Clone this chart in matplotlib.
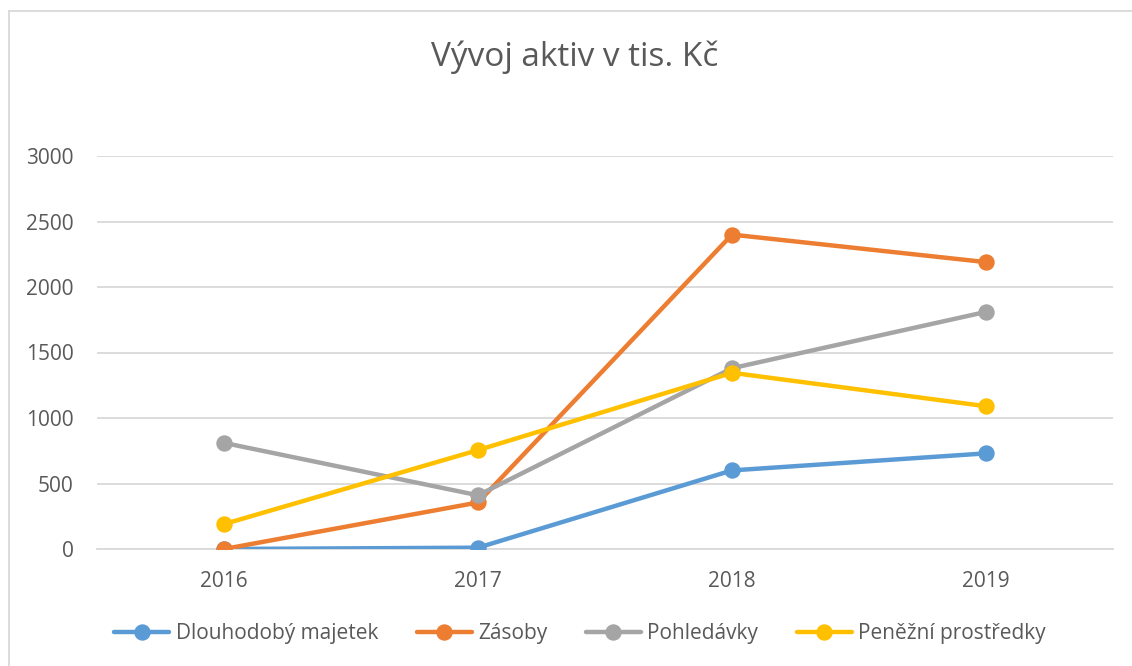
import matplotlib
matplotlib.use("Agg")
import matplotlib.pyplot as plt
from matplotlib.lines import Line2D

years = ["2016", "2017", "2018", "2019"]
dlouhodoby = [0, 10, 600, 730]
zasoby = [0, 355, 2400, 2190]
pohledavky = [810, 410, 1380, 1810]
penezni = [190, 755, 1345, 1090]
series_names = ["Dlouhodobý majetek", "Zásoby", "Pohledávky", "Peněžní prostředky"]
colors = ["#5B9BD5", "#ED7D31", "#A5A5A5", "#FFC000"]
yticks = [0, 500, 1000, 1500, 2000, 2500, 3000]

plt.rcParams['font.family'] = ['Open Sans', 'DejaVu Sans']
W, H = 1132, 666
fig = plt.figure(figsize=(W / 100, H / 100), dpi=100)
ax = fig.add_axes([97 / W, (H - 549) / H, (1113 - 97) / W, (549 - 156) / H])

x = list(range(len(years)))
for vals, name, c in zip([dlouhodoby, zasoby, pohledavky, penezni], series_names, colors):
    ax.plot(x, vals, color=c, lw=3.2, marker='o', markersize=10.8, label=name,
            solid_capstyle='round', zorder=3)

ax.set_xlim(-0.5, len(years) - 0.5)
ax.set_ylim(0, 3000)
ax.set_yticks(yticks)
ax.set_xticks(x)
ax.set_xticklabels(years)
ax.grid(axis='y', color='#D9D9D9', lw=1.3)
ax.set_axisbelow(True)
for s in ['top', 'right', 'left']:
    ax.spines[s].set_visible(False)
ax.spines['bottom'].set_color('#D9D9D9')
ax.spines['bottom'].set_linewidth(1.3)
ax.tick_params(length=0, labelsize=15, colors='#595959')
ax.tick_params(axis='y', pad=17)
ax.tick_params(axis='x', pad=16)

fig.text(575 / W, (H - 57) / H, "Vývoj aktiv v tis. Kč", ha='center', va='center',
         fontsize=24, color='#595959')

leg = fig.legend(loc='center', bbox_to_anchor=(580 / W, (H - 634) / H), ncol=4,
                 frameon=False, fontsize=15, labelcolor='#595959',
                 handlelength=2.65, handletextpad=0.3, columnspacing=1.85)

# chart area border (left and top)
fig.add_artist(Line2D([9 / W, 9 / W], [0, (H - 11) / H], color='#D9D9D9', lw=1.3,
                      transform=fig.transFigure))
fig.add_artist(Line2D([9 / W, 1], [(H - 11) / H, (H - 11) / H], color='#D9D9D9', lw=1.3,
                      transform=fig.transFigure))

fig.savefig("out.png", dpi=100)
